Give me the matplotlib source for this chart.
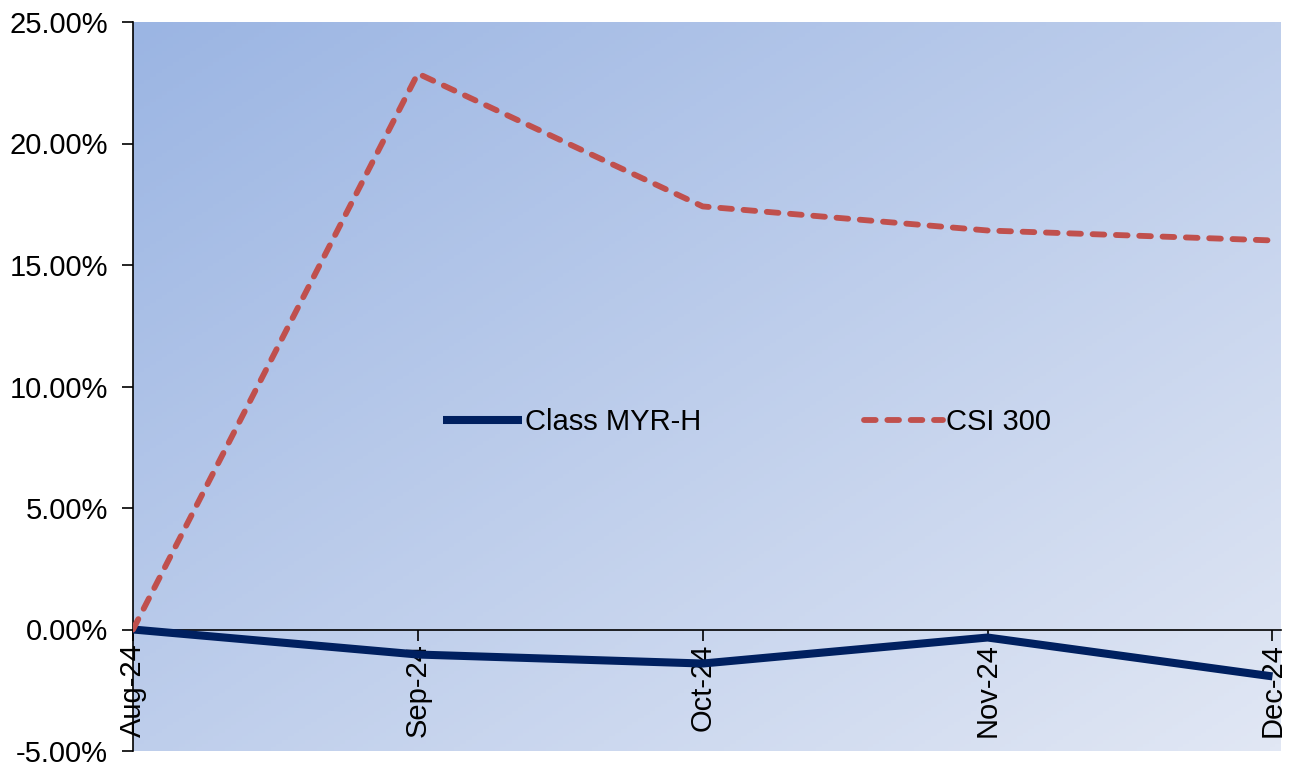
import numpy as np
import matplotlib.pyplot as plt
from matplotlib.colors import LinearSegmentedColormap
from matplotlib.ticker import FuncFormatter

plt.rcParams['font.family'] = ['Liberation Sans', 'DejaVu Sans']

months = ['Aug-24', 'Sep-24', 'Oct-24', 'Nov-24', 'Dec-24']
class_myr_h = [0.00, -1.03, -1.40, -0.33, -1.93]
csi_300 = [0.00, 22.88, 17.41, 16.42, 16.01]

fig = plt.figure(figsize=(12.96, 7.69), dpi=100)
ax = fig.add_axes([133 / 1296, 18 / 769, (1281 - 133) / 1296, (751 - 22) / 769])

# diagonal blue gradient behind the plot, darker at the top left
xx, yy = np.meshgrid(np.linspace(0, 1, 200), np.linspace(0, 1, 200))
grad = (xx + yy) / 2
cmap = LinearSegmentedColormap.from_list('bg', ['#9bb5e3', '#e1e7f4'])
ax.imshow(grad, cmap=cmap, extent=[0, 1, 0, 1], transform=ax.transAxes,
          aspect='auto', zorder=0, origin='upper')

x = np.arange(len(months))
ax.plot(x, class_myr_h, color='#002060', lw=5.8, solid_capstyle='butt',
        label='Class MYR-H', zorder=3)
ax.plot(x, csi_300, color='#c0504d', lw=4.2, dashes=(2.0, 2.0),
        dash_capstyle='round', label='CSI 300', zorder=3)

for s in ['top', 'right']:
    ax.spines[s].set_visible(False)
ax.spines['bottom'].set_position(('data', 0))
ax.spines['left'].set_linewidth(1.2)
ax.spines['bottom'].set_linewidth(1.2)

ax.set_xlim(0, 4.03)
ax.set_ylim(-5, 25)
ax.set_yticks(np.arange(-5, 26, 5))
ax.yaxis.set_major_formatter(FuncFormatter(lambda v, p: f'{v:.2f}%'))
ax.set_xticks(x)
ax.set_xticklabels(months)
ax.tick_params(axis='y', direction='out', length=8, width=1.2, labelsize=21, pad=10)
ax.tick_params(axis='x', direction='out', length=8, width=1.2, labelsize=21, pad=2,
               labelrotation=90)

ax.legend(loc='center', bbox_to_anchor=(0.535, 0.451), ncol=2, frameon=False,
          fontsize=21, handlelength=2.7, handletextpad=0.1, columnspacing=5.6)

fig.savefig('out.png', dpi=100)
